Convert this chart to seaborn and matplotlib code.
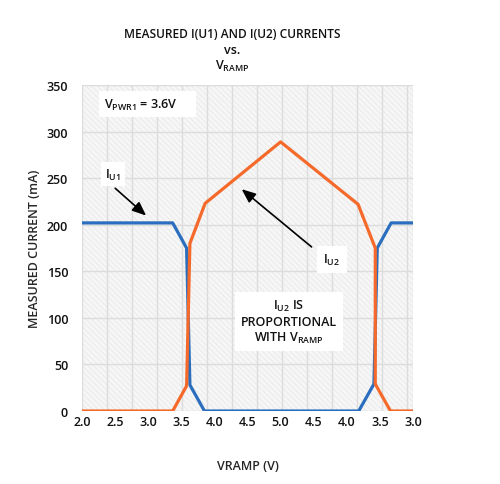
import numpy as np
import pandas as pd
import matplotlib
matplotlib.use("Agg")
import matplotlib.pyplot as plt
import seaborn as sns
from matplotlib.patches import Rectangle

# VRAMP sweeps up 2.0 -> 5.0 then back down 5.0 -> 3.0
iu1_up_v = [2.0, 3.37, 3.58, 3.63, 3.85, 5.0]
iu1_up_ma = [202, 202, 175, 28, 0, 0]
iu1_down_v = [3.82, 3.59, 3.54, 3.33, 3.0]
iu1_down_ma = [0, 29, 175, 202, 202]

iu2_up_v = [2.0, 3.37, 3.58, 3.63, 3.86, 5.0]
iu2_up_ma = [0, 0, 27, 180, 223, 289]
iu2_down_v = [3.83, 3.57, 3.57, 3.34, 3.0]
iu2_down_ma = [222, 175, 29, 0, 0]

tick_labels = ["2.0", "2.5", "3.0", "3.5", "4.0", "4.5", "5.0",
               "4.5", "4.0", "3.5", "3.0"]
y_ticks = [0, 50, 100, 150, 200, 250, 300, 350]

PEAK = 5.0


def sweep(up_v, down_v):
    # position along the ramp travel: up side as-is, down side mirrored past the peak
    return list(up_v) + [2 * PEAK - v for v in down_v]


df = pd.concat([
    pd.DataFrame({"x": sweep(iu1_up_v, iu1_down_v), "ma": iu1_up_ma + iu1_down_ma, "s": "IU1"}),
    pd.DataFrame({"x": sweep(iu2_up_v, iu2_down_v), "ma": iu2_up_ma + iu2_down_ma, "s": "IU2"}),
], ignore_index=True)

sns.set_theme(style="white")
plt.rcParams["font.family"] = ["Open Sans", "DejaVu Sans"]
plt.rcParams["mathtext.fontset"] = "custom"
plt.rcParams["mathtext.rm"] = "Open Sans"
plt.rcParams["hatch.linewidth"] = 0.4

fig = plt.figure(figsize=(5, 4.85), dpi=100)
ax = fig.add_axes([0.164, 0.1505, 0.662, 0.672])

x0, x1 = 2.0, 2 * PEAK - 3.0
ax.set_xlim(x0, x1)
ax.set_ylim(0, 350)

# hatched background
ax.add_patch(Rectangle((0, 0), 1, 1, transform=ax.transAxes, facecolor="#f6f6f6",
                       edgecolor="#e2e2e2", hatch="\\\\\\\\\\\\", lw=0, zorder=0))

# grid: vertical lines every 25 px, horizontal every 50 mA
step = (x1 - x0) * 25 / 331
for gx in np.arange(x0, x1, step):
    ax.axvline(gx, color="#dcdcdc", lw=1, zorder=1)
ax.axvline(x1, color="#dcdcdc", lw=1, zorder=1)
for gy in y_ticks:
    ax.axhline(gy, color="#dcdcdc", lw=1, zorder=1)

sns.lineplot(data=df, x="x", y="ma", hue="s", palette={"IU1": "#2a6ebd", "IU2": "#f56a2a"},
             sort=False, estimator=None, lw=2.3, legend=False, ax=ax, zorder=3)
# orange sits on top at the crossings
ax.lines[-1].set_zorder(4)

for s in ax.spines.values():
    s.set_visible(False)

ax.set_xticks(np.arange(x0, x1 + 0.01, 0.5))
ax.set_xticklabels(tick_labels)
ax.set_yticks(y_ticks)
ax.tick_params(axis="both", length=0, labelsize=9, colors="#111111")
ax.tick_params(axis="x", pad=3)
ax.tick_params(axis="y", pad=10)
for lab in ax.get_xticklabels() + ax.get_yticklabels():
    lab.set_fontweight("semibold")

ax.set_xlabel("VRAMP (V)", fontsize=9, fontweight="semibold", labelpad=22)
ax.set_ylabel("MEASURED CURRENT (mA)", fontsize=9, fontweight="semibold", labelpad=4)

tkw = dict(fontsize=9, fontweight="semibold", ha="center", va="center", color="#111111")
fig.text(232 / 500, 1 - 34 / 485, "MEASURED I(U1) AND I(U2) CURRENTS", **{**tkw, "fontsize": 8.6})
fig.text(232 / 500, 1 - 51 / 485, "vs.", **tkw)
fig.text(232 / 500, 1 - 66 / 485, r"V$_\mathregular{RAMP}$", **tkw)

box = dict(boxstyle="square,pad=0.35", facecolor="white", edgecolor="none")
ax.text(0.198, 0.941, r"V$_\mathregular{PWR1}$ = 3.6V     ", transform=ax.transAxes,
        bbox=dict(boxstyle="square,pad=0.45", facecolor="white", edgecolor="none"), **tkw)
ax.text(0.094, 0.727, r"I$_\mathregular{U1}$", transform=ax.transAxes, bbox=box, **tkw)
ax.text(0.755, 0.465, r"I$_\mathregular{U2}$", transform=ax.transAxes,
        bbox=dict(boxstyle="square,pad=0.5", facecolor="white", edgecolor="none"), **tkw)
ax.text(0.625, 0.275, "I$_\\mathregular{U2}$ IS\nPROPORTIONAL\nWITH V$_\\mathregular{RAMP}$",
        transform=ax.transAxes, linespacing=1.2,
        bbox=dict(boxstyle="square,pad=0.45", facecolor="white", edgecolor="none"), **tkw)

arw = dict(arrowstyle="-|>,head_length=0.6,head_width=0.25", color="black", lw=1.2,
           mutation_scale=14)
ax.annotate("", xy=(0.20, 0.594), xytext=(0.094, 0.689), xycoords="axes fraction",
            arrowprops=arw, zorder=5)
ax.annotate("", xy=(0.476, 0.686), xytext=(0.70, 0.498), xycoords="axes fraction",
            arrowprops=arw, zorder=5)

fig.savefig("out.png", dpi=100)
